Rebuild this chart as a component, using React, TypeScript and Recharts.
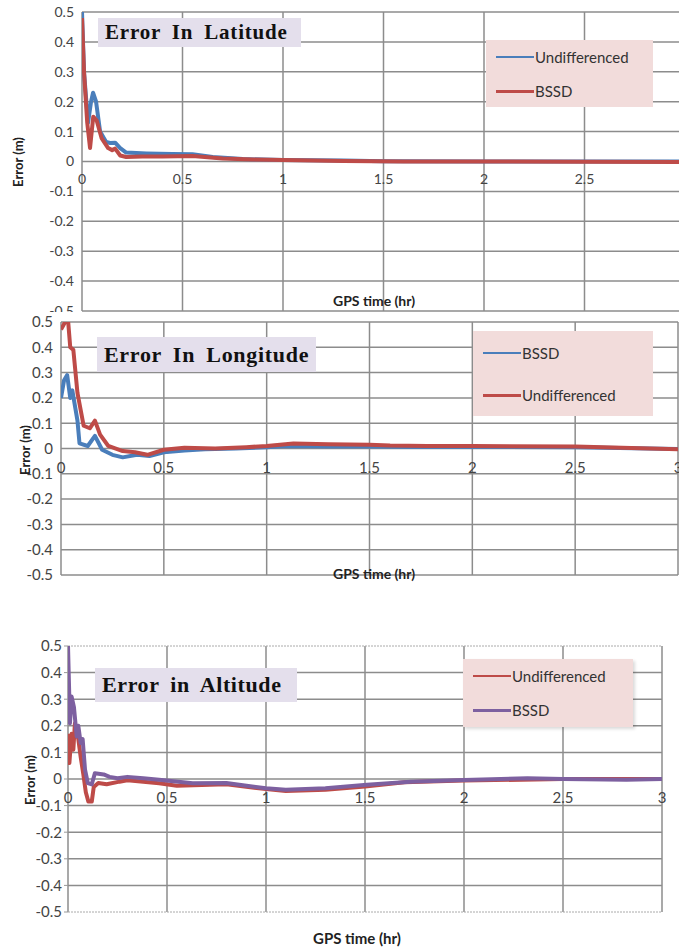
import React from "react";
import {
  LineChart,
  Line,
  XAxis,
  YAxis,
  CartesianGrid,
  Legend,
  ReferenceLine,
} from "recharts";

// time axis (hours) and error axis (m)
const xTicks = [0, 0.5, 1, 1.5, 2, 2.5, 3];
const yTicks = [-0.5, -0.4, -0.3, -0.2, -0.1, 0, 0.1, 0.2, 0.3, 0.4, 0.5];

// Error in latitude
const latUndiffT = [0, 0.01, 0.03, 0.045, 0.055, 0.07, 0.09, 0.12, 0.14, 0.165, 0.19, 0.22, 0.32, 0.45, 0.55, 0.65, 0.8, 1.0, 1.3, 1.5, 2, 2.5, 3];
const latUndiffV = [0.5, 0.3, 0.13, 0.2, 0.23, 0.2, 0.1, 0.065, 0.062, 0.063, 0.045, 0.03, 0.027, 0.025, 0.024, 0.015, 0.008, 0.005, 0.003, 0.001, 0, 0, 0];
const latBssdT = [0, 0.01, 0.026, 0.04, 0.056, 0.073, 0.098, 0.13, 0.15, 0.165, 0.19, 0.22, 0.3, 0.4, 0.55, 0.7, 0.85, 1.0, 1.3, 1.6, 2, 2.5, 3];
const latBssdV = [0.48, 0.3, 0.13, 0.045, 0.15, 0.137, 0.077, 0.045, 0.038, 0.043, 0.02, 0.015, 0.017, 0.017, 0.018, 0.01, 0.007, 0.005, 0.002, 0, 0, -0.001, -0.002];

// Error in longitude
const lonBssdT = [0, 0.015, 0.03, 0.045, 0.055, 0.08, 0.09, 0.13, 0.165, 0.2, 0.25, 0.3, 0.37, 0.43, 0.5, 0.6, 0.7, 0.85, 1.0, 1.1, 1.3, 1.5, 1.7, 2.0, 2.5, 3.0];
const lonBssdV = [0.2, 0.27, 0.29, 0.2, 0.23, 0.11, 0.02, 0.01, 0.05, -0.005, -0.025, -0.035, -0.025, -0.03, -0.015, -0.008, -0.003, 0, 0.005, 0.01, 0.008, 0.008, 0.006, 0.006, 0.005, -0.002];
const lonUndiffT = [0, 0.02, 0.035, 0.045, 0.06, 0.08, 0.11, 0.14, 0.165, 0.19, 0.23, 0.3, 0.36, 0.42, 0.5, 0.6, 0.75, 0.9, 1.0, 1.13, 1.3, 1.5, 1.6, 1.78, 2.0, 2.5, 3.0];
const lonUndiffV = [0.47, 0.5, 0.5, 0.4, 0.39, 0.22, 0.09, 0.08, 0.11, 0.055, 0.01, -0.01, -0.015, -0.025, -0.005, 0.003, 0, 0.005, 0.01, 0.02, 0.017, 0.015, 0.012, 0.01, 0.01, 0.008, -0.003];

// Error in altitude
const altUndiffT = [0, 0.007, 0.018, 0.027, 0.035, 0.052, 0.064, 0.077, 0.09, 0.103, 0.12, 0.13, 0.153, 0.195, 0.26, 0.3, 0.38, 0.46, 0.55, 0.8, 1.0, 1.1, 1.3, 1.5, 1.7, 2.0, 2.5, 3.0];
const altUndiffV = [0.17, 0.06, 0.17, 0.11, 0.21, 0.15, 0.083, 0.02, -0.05, -0.085, -0.085, -0.03, -0.015, -0.02, -0.01, -0.005, -0.01, -0.016, -0.025, -0.02, -0.038, -0.045, -0.04, -0.028, -0.012, -0.006, 0, 0];
const altBssdT = [0, 0.01, 0.018, 0.03, 0.044, 0.052, 0.064, 0.074, 0.086, 0.1, 0.12, 0.136, 0.18, 0.21, 0.25, 0.3, 0.38, 0.46, 0.63, 0.8, 1.0, 1.1, 1.3, 1.51, 1.73, 2.0, 2.32, 2.5, 2.82, 3.0];
const altBssdV = [0.5, 0.21, 0.31, 0.27, 0.16, 0.2, 0.135, 0.15, 0.035, -0.015, -0.02, 0.022, 0.017, 0.008, 0.003, 0.008, 0.003, -0.003, -0.016, -0.015, -0.035, -0.04, -0.035, -0.022, -0.01, -0.004, 0.003, 0, -0.003, 0];

const BLUE = "#4a7ebb";
const RED = "#be4b48";
const PURPLE = "#7d60a0";
const GRID = "#8c8c8c";
const SANS = "Lato, 'Open Sans', sans-serif";

const toPoints = (t: number[], v: number[]) => t.map((x, i) => ({ t: x, v: v[i] }));

type Series = { name: string; color: string; width: number; t: number[]; v: number[] };

type PanelProps = {
  top: number;
  boxH: number;
  plotTop: number;
  plotLeft: number;
  plotW: number;
  plotH: number;
  below: number;
  title: string;
  titleBox: { left: number; top: number; w: number; h: number; size: number; ls: number };
  legendBox: { left: number; top: number; w: number; h: number; gap: number; pad: number };
  yLabel: { left: number; top: number };
  xLabel: { left: number; top: number; size: number };
  tickSize: number;
  tickDy: number;
  dottedBorder?: boolean;
  series: Series[];
};

function Panel(p: PanelProps) {
  const zeroY = p.plotTop + p.plotH / 2;
  const renderXTick = (props: any) => {
    const { x, payload } = props;
    // labels that fall past the page edge are not drawn (panel is cropped)
    if (x > 679) return <g />;
    return (
      <text x={x} y={zeroY + p.tickDy} textAnchor="middle" fill="#444" fontSize={p.tickSize} fontFamily={SANS}>
        {payload.value}
      </text>
    );
  };
  const renderLegend = () => (
    <div
      style={{
        width: p.legendBox.w,
        height: p.legendBox.h,
        background: "#f2dcdb",
        boxSizing: "border-box",
        paddingTop: p.legendBox.pad,
        paddingLeft: 10,
        boxShadow: p.dottedBorder ? "2px 2px 3px rgba(0,0,0,0.15)" : "none",
      }}
    >
      {p.series.map((s) => (
        <div key={s.name} style={{ display: "flex", alignItems: "center", height: p.legendBox.gap, fontFamily: SANS, fontSize: 15, color: "#333" }}>
          <span style={{ display: "inline-block", width: 38, height: s.width - 1, background: s.color, marginRight: 1 }} />
          {s.name}
        </div>
      ))}
    </div>
  );
  return (
    <div style={{ position: "absolute", left: 0, top: p.top, width: 679, height: p.boxH, overflow: "hidden", background: "#fff" }}>
      <LineChart
        width={p.plotLeft + p.plotW + 10}
        height={p.plotTop + p.plotH + 1 + p.below}
        margin={{ top: p.plotTop, right: 10, bottom: p.below, left: 0 }}
      >
        <CartesianGrid
          stroke={GRID}
          strokeWidth={1.5}
          horizontalValues={p.dottedBorder ? yTicks.slice(1, -1) : yTicks}
          verticalValues={xTicks}
        />
        {p.dottedBorder && <ReferenceLine y={0.5} stroke="#aaa" strokeDasharray="2 1" />}
        {p.dottedBorder && <ReferenceLine y={-0.5} stroke="#aaa" strokeDasharray="2 1" />}
        <XAxis
          type="number"
          dataKey="t"
          domain={[0, 3]}
          ticks={xTicks}
          height={1}
          axisLine={false}
          tickLine={false}
          tick={renderXTick}
          interval={0}
          allowDataOverflow
        />
        <YAxis
          type="number"
          dataKey="v"
          domain={[-0.5, 0.5]}
          ticks={yTicks}
          width={p.plotLeft}
          axisLine={false}
          tickLine={p.dottedBorder ? { stroke: "#999" } : false}
          tickSize={p.dottedBorder ? 4 : 6}
          interval={0}
          tick={{ fill: "#444", fontSize: p.tickSize, fontFamily: SANS }}
          tickFormatter={(v: number) => String(Math.round(v * 10) / 10)}
          allowDataOverflow
        />
        <Legend
          layout="horizontal"
          verticalAlign="middle"
          align="center"
          wrapperStyle={{ position: "absolute", left: p.legendBox.left, top: p.legendBox.top, width: p.legendBox.w }}
          content={renderLegend}
        />
        {p.series.map((s) => (
          <Line
            key={s.name}
            data={toPoints(s.t, s.v)}
            dataKey="v"
            name={s.name}
            type="linear"
            stroke={s.color}
            strokeWidth={4}
            strokeLinejoin="round"
            dot={false}
            isAnimationActive={false}
          />
        ))}
      </LineChart>
      <div
        style={{
          position: "absolute",
          left: p.titleBox.left,
          top: p.titleBox.top,
          width: p.titleBox.w,
          height: p.titleBox.h,
          background: "#e4dfec",
          fontFamily: "'Liberation Serif', 'Times New Roman', serif",
          fontWeight: "bold",
          fontSize: p.titleBox.size,
          letterSpacing: p.titleBox.ls,
          wordSpacing: 5,
          lineHeight: p.titleBox.h + "px",
          paddingLeft: 7,
          boxSizing: "border-box",
          color: "#111",
          whiteSpace: "nowrap",
        }}
      >
        {p.title}
      </div>
      <div
        style={{
          position: "absolute",
          left: p.yLabel.left,
          top: p.yLabel.top,
          transform: "translate(-50%, -50%) rotate(-90deg)",
          fontFamily: SANS,
          fontWeight: "bold",
          fontSize: 13,
          color: "#222",
          whiteSpace: "nowrap",
        }}
      >
        Error (m)
      </div>
      <div
        style={{
          position: "absolute",
          left: p.xLabel.left,
          top: p.xLabel.top,
          transform: "translateY(-50%)",
          fontFamily: SANS,
          fontWeight: "bold",
          fontSize: p.xLabel.size,
          color: "#222",
          whiteSpace: "nowrap",
        }}
      >
        GPS time (hr)
      </div>
    </div>
  );
}

export default function App() {
  return (
    <div style={{ position: "absolute", left: 0, top: 0, width: 679, height: 951, overflow: "hidden", background: "#fff" }}>
      <Panel
        top={0}
        boxH={313}
        plotTop={12}
        plotLeft={82}
        plotW={603}
        plotH={299}
        below={0}
        title="Error In Latitude"
        titleBox={{ left: 98, top: 18, w: 203, h: 29, size: 21, ls: 0.8 }}
        legendBox={{ left: 486, top: 40, w: 167, h: 67, gap: 34, pad: 0 }}
        yLabel={{ left: 18, top: 162 }}
        xLabel={{ left: 333, top: 300, size: 14 }}
        tickSize={14}
        tickDy={22}
        series={[
          { name: "Undifferenced", color: BLUE, width: 3, t: latUndiffT, v: latUndiffV },
          { name: "BSSD", color: RED, width: 4, t: latBssdT, v: latBssdV },
        ]}
      />
      <Panel
        top={313}
        boxH={317}
        plotTop={9}
        plotLeft={61}
        plotW={617}
        plotH={253}
        below={14}
        title="Error In Longitude"
        titleBox={{ left: 97, top: 24, w: 219, h: 35, size: 22, ls: 0.7 }}
        legendBox={{ left: 473, top: 18, w: 180, h: 85, gap: 42, pad: 1 }}
        yLabel={{ left: 25, top: 137 }}
        xLabel={{ left: 333, top: 260, size: 14 }}
        tickSize={15}
        tickDy={24}
        series={[
          { name: "BSSD", color: BLUE, width: 3, t: lonBssdT, v: lonBssdV },
          { name: "Undifferenced", color: RED, width: 4, t: lonUndiffT, v: lonUndiffV },
        ]}
      />
      <Panel
        top={630}
        boxH={321}
        plotTop={16}
        plotLeft={68}
        plotW={594}
        plotH={266}
        below={14}
        title="Error in Altitude"
        titleBox={{ left: 95, top: 38, w: 202, h: 34, size: 22, ls: 0.6 }}
        legendBox={{ left: 463, top: 29, w: 170, h: 68, gap: 34, pad: 0 }}
        yLabel={{ left: 30, top: 150 }}
        xLabel={{ left: 313, top: 308, size: 15 }}
        tickSize={15}
        tickDy={24}
        dottedBorder
        series={[
          { name: "Undifferenced", color: RED, width: 3, t: altUndiffT, v: altUndiffV },
          { name: "BSSD", color: PURPLE, width: 4, t: altBssdT, v: altBssdV },
        ]}
      />
    </div>
  );
}
